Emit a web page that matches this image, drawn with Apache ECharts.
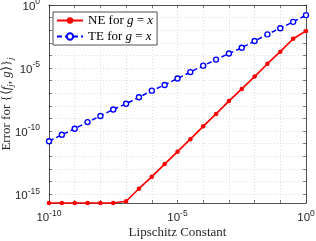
<!DOCTYPE html>
<html><head><meta charset="utf-8">
<script src="https://cdn.jsdelivr.net/npm/echarts@6/dist/echarts.min.js"></script>
<style>html,body{margin:0;padding:0;background:#fff}#c{width:316px;height:241px}</style>
</head><body><div id="c"></div>
<script>
const xValues = [1e-10, 3.16e-10, 1e-9, 3.16e-9, 1e-8, 3.16e-8, 1e-7, 3.16e-7, 1e-6, 3.16e-6, 1e-5, 3.16e-5, 1e-4, 3.16e-4, 1e-3, 3.16e-3, 1e-2, 3.16e-2, 1e-1, 3.16e-1, 1];
const neValues = [2.0e-16, 2.0e-16, 2.0e-16, 2.0e-16, 2.0e-16, 2.0e-16, 2.75e-16, 2.7e-15, 2.45e-14, 2.45e-13, 2.35e-12, 2.3e-11, 2.4e-10, 2.3e-9, 2.4e-8, 2.2e-7, 2.1e-6, 2.2e-5, 2.0e-4, 2.1e-3, 8.7e-3];
const teValues = [1.58e-11, 5.1e-11, 1.55e-10, 5.2e-10, 1.58e-9, 5.2e-9, 1.48e-8, 4.8e-8, 1.62e-7, 4.6e-7, 1.48e-6, 4.8e-6, 1.55e-5, 4.7e-5, 1.41e-4, 4.1e-4, 1.38e-3, 4.7e-3, 1.45e-2, 4.6e-2, 0.158];
const xTickValues = [1e-10, 1e-9, 1e-8, 1e-7, 1e-6, 1e-5, 1e-4, 1e-3, 1e-2, 1e-1, 1];
const xLabelValues = [1e-10, 1e-5, 1];
const yTickValues = [1e-15, 1e-14, 1e-13, 1e-12, 1e-11, 1e-10, 1e-9, 1e-8, 1e-7, 1e-6, 1e-5, 1e-4, 1e-3, 1e-2, 1e-1, 1];
const yLabelValues = [1e-15, 1e-10, 1e-5, 1];
const seriesNames = ['NE for g = x', 'TE for g = x'];

const axisColor = '#262626';
const tickRich = {
  b: {fontFamily: 'Liberation Sans', fontSize: 11.5, color: axisColor, verticalAlign: 'bottom', lineHeight: 15},
  s: {fontFamily: 'Liberation Sans', fontSize: 8.5, color: axisColor, verticalAlign: 'top', lineHeight: 15}
};
function powLabel(v) {
  const e = Math.round(Math.log10(v));
  return '{b|10}{s|' + e + '}';
}
const serif = 'Liberation Serif';

const chart = echarts.init(document.getElementById('c'));
chart.setOption({
  animation: false,
  grid: {left: 49, right: 10, top: 5, bottom: 38, outerBoundsMode: 'none', containLabel: false},
  legend: {
    orient: 'vertical', left: 53, top: 12,
    data: seriesNames,
    backgroundColor: '#fff', borderColor: axisColor, borderWidth: 0.8,
    padding: [2, 4, 2, 3], itemGap: 3, itemWidth: 26, itemHeight: 8,
    textStyle: {fontFamily: serif, fontSize: 13, color: '#000',
      rich: {i: {fontFamily: serif, fontStyle: 'italic', fontSize: 13, color: '#000'},
             r: {fontFamily: serif, fontSize: 13, color: '#000'}}},
    formatter: function (name) {
      const p = name.split(' for ');
      return '{r|' + p[0] + ' for }{i|g}{r| = }{i|x}';
    }
  },
  xAxis: [{
    type: 'log', min: 1e-10, max: 1, logBase: 10,
    name: 'Lipschitz Constant', nameLocation: 'middle', nameGap: 23, nameMoveOverlap: false,
    nameTextStyle: {fontFamily: serif, fontSize: 13, color: axisColor},
    axisLine: {lineStyle: {color: axisColor, width: 0.8}},
    axisTick: {inside: true, length: 3, customValues: xTickValues, lineStyle: {color: axisColor, width: 0.6}},
    axisLabel: {customValues: xLabelValues, margin: 6, formatter: powLabel, rich: tickRich},
    splitLine: {show: true, lineStyle: {color: '#d4d4d4', type: [1, 2], width: 0.8}},
    minorTick: {show: false}
  }, {
    type: 'log', min: 1e-10, max: 1, position: 'top',
    axisLine: {show: true, lineStyle: {color: axisColor, width: 0.8}},
    axisTick: {inside: true, length: 3, customValues: xTickValues, lineStyle: {color: axisColor, width: 0.6}},
    axisLabel: {show: false}, splitLine: {show: false}
  }],
  yAxis: [{
    type: 'log', min: 2e-16, max: 1, logBase: 10,
    name: '{r|Error for {⟨}{i|f}{sub|j}{r|, }{i|g}{r|⟩}}{sub|j}', nameLocation: 'middle', nameGap: 34, nameRotate: 90, nameMoveOverlap: false,
    nameTextStyle: {fontFamily: serif, fontSize: 13, color: axisColor,
      rich: {
        r: {fontFamily: serif, fontSize: 13, color: axisColor, lineHeight: 16, verticalAlign: 'middle'},
        i: {fontFamily: serif, fontStyle: 'italic', fontSize: 13, color: axisColor, lineHeight: 16, verticalAlign: 'middle'},
        sub: {fontFamily: serif, fontStyle: 'italic', fontSize: 9, color: axisColor, lineHeight: 16, verticalAlign: 'bottom'}
      }},
    axisLine: {show: true, lineStyle: {color: axisColor, width: 0.8}},
    axisTick: {show: true, inside: true, length: 3, customValues: yTickValues, lineStyle: {color: axisColor, width: 0.6}},
    axisLabel: {customValues: yLabelValues, margin: 9, formatter: powLabel, rich: tickRich},
    splitLine: {show: true, lineStyle: {color: '#d4d4d4', type: [1, 2], width: 0.8}}
  }, {
    type: 'log', min: 2e-16, max: 1, position: 'right',
    axisLine: {show: true, lineStyle: {color: axisColor, width: 0.8}},
    axisTick: {show: true, inside: true, length: 3, customValues: yTickValues, lineStyle: {color: axisColor, width: 0.6}},
    axisLabel: {show: false}, splitLine: {show: false}
  }],
  series: [{
    name: seriesNames[0], type: 'line', xAxisIndex: 0, yAxisIndex: 0,
    data: xValues.map((x, i) => [x, neValues[i]]),
    clip: false, symbol: 'circle', symbolSize: 4.5,
    itemStyle: {color: '#ff0000'},
    lineStyle: {color: '#ff0000', width: 1.7}
  }, {
    name: seriesNames[1], type: 'line', xAxisIndex: 0, yAxisIndex: 0,
    data: xValues.map((x, i) => [x, teValues[i]]),
    clip: false, symbol: 'circle', symbolSize: 5,
    itemStyle: {color: '#ffffff', borderColor: '#0000ff', borderWidth: 1.4},
    lineStyle: {color: '#0000ff', width: 1.5, type: [5, 3]}
  }]
});
</script>
</body></html>
